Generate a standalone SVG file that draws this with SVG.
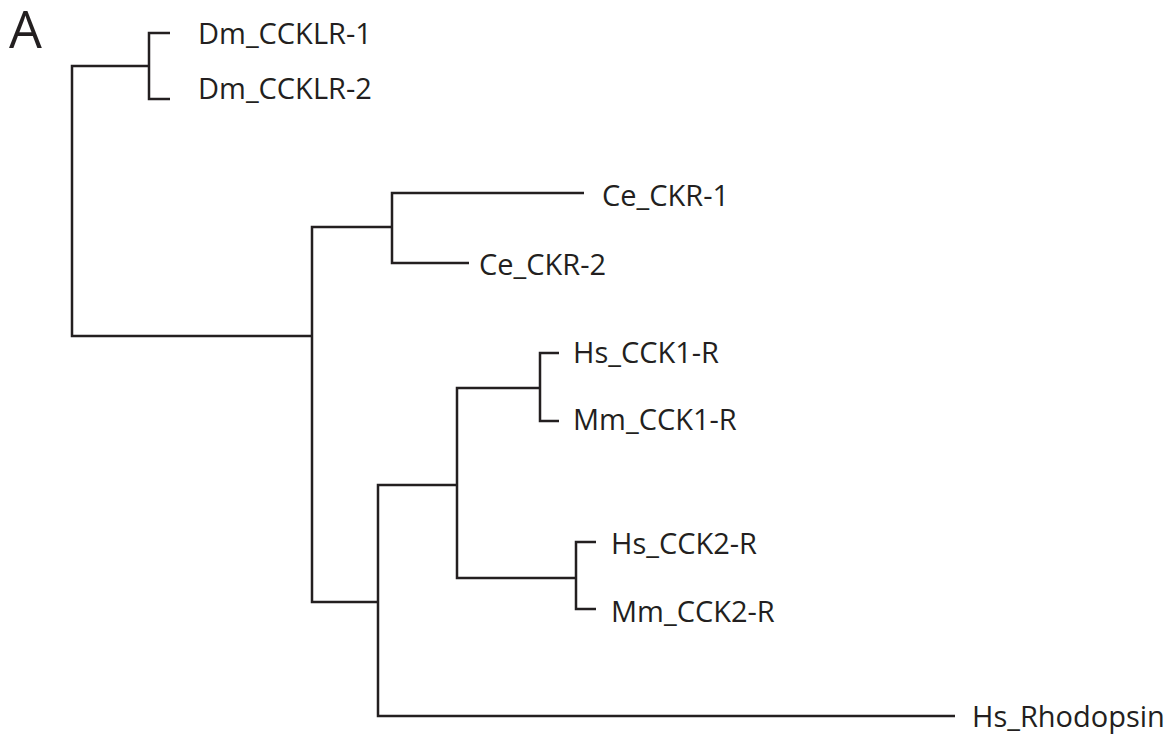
<svg xmlns="http://www.w3.org/2000/svg" width="1172" height="738" viewBox="0 0 1172 738">
  <style>
    .br { fill: none; stroke: #231f20; stroke-width: 2.5; stroke-linecap: butt; stroke-linejoin: miter; }
    .lbl { font-family: "Open Sans", "Liberation Sans", sans-serif; font-size: 29px; fill: #231f20; }
    .panel { font-family: "Open Sans", "Liberation Sans", sans-serif; font-size: 52px; fill: #231f20; }
  </style>
  <rect width="1172" height="738" fill="#ffffff"/>
  <text class="panel" x="9" y="48">A</text>

  <!-- branches of the tree -->
  <g id="branches">
    <!-- root -->
    <path class="br" d="M149,66 H72 V336 H312"/>
    <!-- Drosophila pair -->
    <path class="br" d="M170,33 H149 V99 H170"/>
    <!-- ingroup node -->
    <path class="br" d="M392,227 H312 V602 H378"/>
    <!-- C. elegans pair -->
    <path class="br" d="M584,193 H392 V263 H469"/>
    <!-- vertebrate receptors + rhodopsin -->
    <path class="br" d="M457,485 H378 V716 H955"/>
    <path class="br" d="M540,388 H457 V578 H576"/>
    <path class="br" d="M559,353 H540 V421 H559"/>
    <path class="br" d="M596,542 H576 V609 H596"/>
  </g>

  <g id="leaf-dm-ccklr-1"><text class="lbl" x="198" y="44">Dm_CCKLR-1</text></g>
  <g id="leaf-dm-ccklr-2"><text class="lbl" x="198" y="99">Dm_CCKLR-2</text></g>
  <g id="leaf-ce-ckr-1"><text class="lbl" x="602" y="206">Ce_CKR-1</text></g>
  <g id="leaf-ce-ckr-2"><text class="lbl" x="479" y="275">Ce_CKR-2</text></g>
  <g id="leaf-hs-cck1-r"><text class="lbl" x="573" y="363">Hs_CCK1-R</text></g>
  <g id="leaf-mm-cck1-r"><text class="lbl" x="573" y="430">Mm_CCK1-R</text></g>
  <g id="leaf-hs-cck2-r"><text class="lbl" x="611" y="554">Hs_CCK2-R</text></g>
  <g id="leaf-mm-cck2-r"><text class="lbl" x="611" y="622">Mm_CCK2-R</text></g>
  <g id="leaf-hs-rhodopsin"><text class="lbl" x="972" y="727">Hs_Rhodopsin</text></g>
</svg>
